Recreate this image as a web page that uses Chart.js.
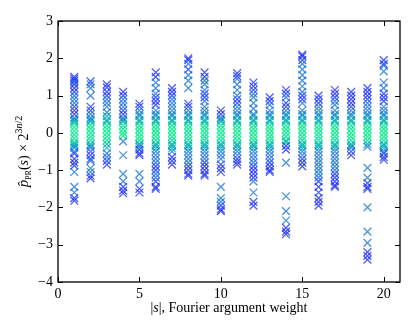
<!DOCTYPE html>
<html>
<head>
<meta charset="utf-8">
<script src="https://cdn.jsdelivr.net/npm/chart.js@4/dist/chart.umd.min.js"></script>
<style>
  html, body { margin: 0; padding: 0; background: #fff; }
</style>
</head>
<body>
<canvas id="scatterChart" width="415" height="334"></canvas>
<script>
// |s| values on the x axis (one column per weight)
const weights = [1, 2, 3, 4, 5, 6, 7, 8, 9, 10, 11, 12, 13, 14, 15, 16, 17, 18, 19, 20];

// scaled coefficients, grouped by colour band, one list per weight
const blueVals = [
  [1.5, 1.45, 1.4, 1.3, 1.2, 1.1, 0.7, 0.6, 0.5, -0.55, -0.7, -0.8, -0.88, -1.75, -1.82],
  [1.38, 0.7, 0.6, -0.5, -0.6, -0.7, -1.15, -1.22],
  [1.3, 1.22, 1.1, 1.0, -0.75, -0.85],
  [1.1, 1.0, 0.6, 0.5, -1.45, -1.55, -1.62],
  [0.78, 0.7, -0.45, -0.55, -0.6, -1.5, -1.6],
  [1.62, 1.5, 0.95, 0.85, 0.75, -0.9, -1.0, -1.3, -1.45, -1.5],
  [1.2, 1.1, 1.0, -0.65, -0.75, -0.85],
  [2.0, 1.95, 1.7, 0.78, 0.7, -0.9, -1.0, -1.1, -1.15],
  [1.62, 1.5, 1.05, 0.95, -0.8, -0.9, -1.0, -1.1, -1.15],
  [0.6, 0.5, -0.85, -0.95, -1.05, -1.95, -2.05, -2.1],
  [1.6, 1.52, 0.9, 0.8, -0.7, -0.78, -0.85],
  [1.35, 1.25, 1.15, -0.9, -1.0, -1.1, -1.2, -1.85, -1.95],
  [0.95, 0.85, -0.8, -0.9, -1.0, -1.05],
  [1.15, 1.05, 0.8, 0.7, -0.35, -0.45, -2.55, -2.65, -2.72],
  [2.1, 2.05, 1.95, 1.0, 0.9, -0.7, -0.8, -0.9],
  [1.0, 0.9, 0.8, -1.3, -1.45, -1.6, -1.75, -1.85, -1.95],
  [1.15, 1.05, 0.95, -1.1, -1.2, -1.3, -1.4, -1.45],
  [1.1, 1.0, 0.9, 0.8, 0.7, -0.5, -0.6],
  [1.2, 1.1, 1.0, 0.9, -1.35, -1.45, -1.5, -3.2, -3.3, -3.4],
  [1.95, 1.85, 1.05, 0.95, 0.85, -0.55, -0.65, -0.72]
];

const tealVals = [
  [1.35, 1.0, 0.9, 0.8, 0.4, -0.4, -0.5, -1.05, -1.45, -1.6],
  [1.3, 1.2, 1.0, 0.5, 0.4, -0.4, -0.75, -0.95, -1.05],
  [0.9, 0.8, 0.7, 0.55, -0.55, -0.65],
  [0.9, 0.8, 0.7, 0.4, -0.23, -0.6, -1.1, -1.3],
  [0.6, 0.5, -0.38, -1.1, -1.3],
  [1.35, 1.2, 1.05, 0.6, 0.5, -0.5, -0.6, -0.7, -0.8, -1.1, -1.2],
  [0.9, 0.8, 0.7, 0.6, 0.5, -0.5],
  [1.85, 1.55, 1.4, 1.2, 0.6, 0.5, -0.5, -0.6, -0.7, -0.8],
  [1.4, 1.3, 1.15, 0.85, 0.7, 0.6, 0.5, -0.5, -0.6, -0.7],
  [0.4, -0.5, -0.6, -0.7, -1.45, -1.75, -1.85],
  [1.45, 1.3, 1.15, 1.0, 0.7, 0.6, 0.5, -0.5, -0.6],
  [1.05, 0.95, 0.8, 0.65, 0.5, -0.5, -0.6, -0.7, -0.8, -1.3, -1.6],
  [0.75, 0.6, 0.5, -0.5, -0.6, -0.7],
  [0.95, 0.6, 0.5, -0.8, -1.7, -2.1, -2.35],
  [1.85, 1.7, 1.55, 1.4, 1.25, 1.1, 0.8, 0.6, 0.5, -0.5, -0.6],
  [0.7, 0.6, 0.5, -0.5, -0.6, -0.7, -0.8, -0.9, -1.0, -1.1, -1.2],
  [0.85, 0.75, 0.6, 0.5, -0.5, -0.6, -0.7, -0.8, -0.9, -1.0],
  [0.6, 0.5, -0.4],
  [0.8, 0.7, 0.6, 0.5, -0.37, -0.94, -1.2, -2.0, -2.65, -2.95],
  [1.8, 1.65, 1.35, 1.2, 0.7, 0.6, 0.5, -0.5]
];

const seaVals = [
  [0.35, 0.3, -0.3, -0.35],
  [0.35, 0.3, -0.3, -0.35],
  [0.45, 0.35, 0.3, -0.3, -0.4],
  [0.35, 0.3],
  [0.45, 0.35, 0.3, -0.3, -0.32],
  [0.45, 0.35, 0.3, -0.3, -0.35, -0.42],
  [0.45, 0.35, 0.3, -0.3, -0.35, -0.42],
  [0.45, 0.35, 0.3, -0.3, -0.35, -0.42],
  [0.45, 0.35, 0.3, -0.3, -0.35, -0.42],
  [0.35, 0.3, -0.3, -0.35, -0.42],
  [0.45, 0.35, 0.3, -0.3, -0.35, -0.42],
  [0.45, 0.35, 0.3, -0.3, -0.35, -0.42],
  [0.45, 0.35, 0.3, -0.3, -0.35, -0.42],
  [0.45, 0.35, 0.3, -0.25],
  [0.45, 0.35, 0.3, -0.3, -0.35, -0.42],
  [0.45, 0.35, 0.3, -0.3, -0.35, -0.42],
  [0.45, 0.35, 0.3, -0.3, -0.35, -0.42],
  [0.45, 0.35, 0.3, -0.3, -0.35],
  [0.45, 0.35, 0.3, -0.3],
  [0.45, 0.35, 0.3, -0.3, -0.35, -0.42]
];

const greenVals = [
  [0.25, 0.15, 0.05, -0.05, -0.15, -0.25],
  [0.2, 0.1, 0, -0.1, -0.2],
  [0.2, 0.1, 0, -0.1, -0.2],
  [0.2, 0.1, 0, -0.08],
  [0.2, 0.1, 0, -0.1, -0.2],
  [0.2, 0.1, 0, -0.1, -0.2],
  [0.2, 0.1, 0, -0.1, -0.2],
  [0.2, 0.1, 0, -0.1, -0.2],
  [0.2, 0.1, 0, -0.1, -0.2],
  [0.2, 0.1, 0, -0.1, -0.2],
  [0.2, 0.1, 0, -0.1, -0.2],
  [0.2, 0.1, 0, -0.1, -0.2],
  [0.2, 0.1, 0, -0.1, -0.2],
  [0.2, 0.1, 0, -0.1, -0.2],
  [0.2, 0.1, 0, -0.1, -0.2],
  [0.2, 0.1, 0, -0.1, -0.2],
  [0.2, 0.1, 0, -0.1, -0.2],
  [0.2, 0.1, 0, -0.1, -0.2],
  [0.2, 0.1, 0, -0.1, -0.2],
  [0.2, 0.1, 0, -0.1, -0.2]
];

const xTicks = [0, 5, 10, 15, 20];
const yTicks = [-4, -3, -2, -1, 0, 1, 2, 3];

const FONT = '"Liberation Serif", "DejaVu Serif", serif';

function toPoints(cols) {
  const pts = [];
  cols.forEach((vals, i) => vals.forEach(v => pts.push({ x: weights[i], y: v })));
  return pts;
}

function band(data, color) {
  return {
    data: toPoints(data),
    pointStyle: 'crossRot',
    pointRadius: 5.5,
    pointBorderWidth: 1.3,
    borderColor: color,
    backgroundColor: color
  };
}

// inward ticks on all four sides, the frame, and the two axis titles
const framePlugin = {
  id: 'frame',
  afterDraw(chart) {
    const { ctx, chartArea: a, scales } = chart;
    ctx.save();
    ctx.strokeStyle = '#000';
    ctx.lineWidth = 1;
    ctx.beginPath();
    xTicks.forEach(t => {
      const px = Math.round(scales.x.getPixelForValue(t)) + 0.5;
      ctx.moveTo(px, a.bottom); ctx.lineTo(px, a.bottom - 5);
      ctx.moveTo(px, a.top); ctx.lineTo(px, a.top + 5);
    });
    yTicks.forEach(t => {
      const py = Math.round(scales.y.getPixelForValue(t)) + 0.5;
      ctx.moveTo(a.left, py); ctx.lineTo(a.left + 5, py);
      ctx.moveTo(a.right, py); ctx.lineTo(a.right - 5, py);
    });
    ctx.stroke();
    ctx.lineWidth = 1.3;
    ctx.strokeRect(a.left, a.top, a.right - a.left, a.bottom - a.top);

    // x title
    ctx.fillStyle = '#000';
    ctx.textBaseline = 'alphabetic';
    const xParts = [
      ['|', '14px ' + FONT, 0],
      ['s', 'italic 14px ' + FONT, 0],
      ['|, Fourier argument weight', '14px ' + FONT, 0]
    ];
    drawParts(ctx, xParts, (a.left + a.right) / 2, 312);

    // y title, rotated
    ctx.translate(24, (a.top + a.bottom) / 2);
    ctx.rotate(-Math.PI / 2);
    const yParts = [
      ['p\u0302', 'italic 15px ' + FONT, 0],
      ['PR', '8px ' + FONT, 3],
      ['(', '14px ' + FONT, 0],
      ['s', 'italic 14px ' + FONT, 0],
      [') \u00d7 2', '14px ' + FONT, 0],
      ['3', '10px ' + FONT, -6],
      ['n', 'italic 10px ' + FONT, -6],
      ['/2', '10px ' + FONT, -6]
    ];
    drawParts(ctx, yParts, 0, 4);
    ctx.restore();
  }
};

function drawParts(ctx, parts, cx, y) {
  let total = 0;
  parts.forEach(([t, f]) => { ctx.font = f; total += ctx.measureText(t).width; });
  let x = cx - total / 2;
  ctx.textAlign = 'left';
  parts.forEach(([t, f, dy]) => {
    ctx.font = f;
    ctx.fillText(t, x, y + dy);
    x += ctx.measureText(t).width;
  });
}

new Chart(document.getElementById('scatterChart').getContext('2d'), {
  type: 'scatter',
  data: {
    datasets: [
      band(tealVals, 'rgba(15, 110, 215, 0.75)'),
      band(blueVals, 'rgba(20, 40, 245, 0.75)'),
      band(seaVals, 'rgba(0, 175, 180, 0.8)'),
      band(greenVals, 'rgba(0, 235, 140, 0.85)')
    ]
  },
  options: {
    responsive: false,
    animation: false,
    devicePixelRatio: 1,
    layout: { padding: { top: 21, right: 15, left: 0, bottom: 0 } },
    plugins: {
      legend: { display: false },
      tooltip: { enabled: false }
    },
    scales: {
      x: {
        type: 'linear',
        min: 0,
        max: 21,
        afterBuildTicks: s => { s.ticks = xTicks.map(v => ({ value: v })); },
        afterFit: s => { s.height = 52; },
        grid: { display: false, drawTicks: false },
        border: { display: false },
        ticks: { color: '#000', padding: 4, font: { family: FONT, size: 14 } }
      },
      y: {
        min: -4,
        max: 3,
        afterBuildTicks: s => { s.ticks = yTicks.map(v => ({ value: v })); },
        afterFit: s => { s.width = 58; },
        grid: { display: false, drawTicks: false },
        border: { display: false },
        ticks: {
          color: '#000',
          padding: 5,
          font: { family: FONT, size: 14 },
          callback: v => String(v).replace('-', '\u2212')
        }
      }
    }
  },
  plugins: [framePlugin]
});
</script>
</body>
</html>
